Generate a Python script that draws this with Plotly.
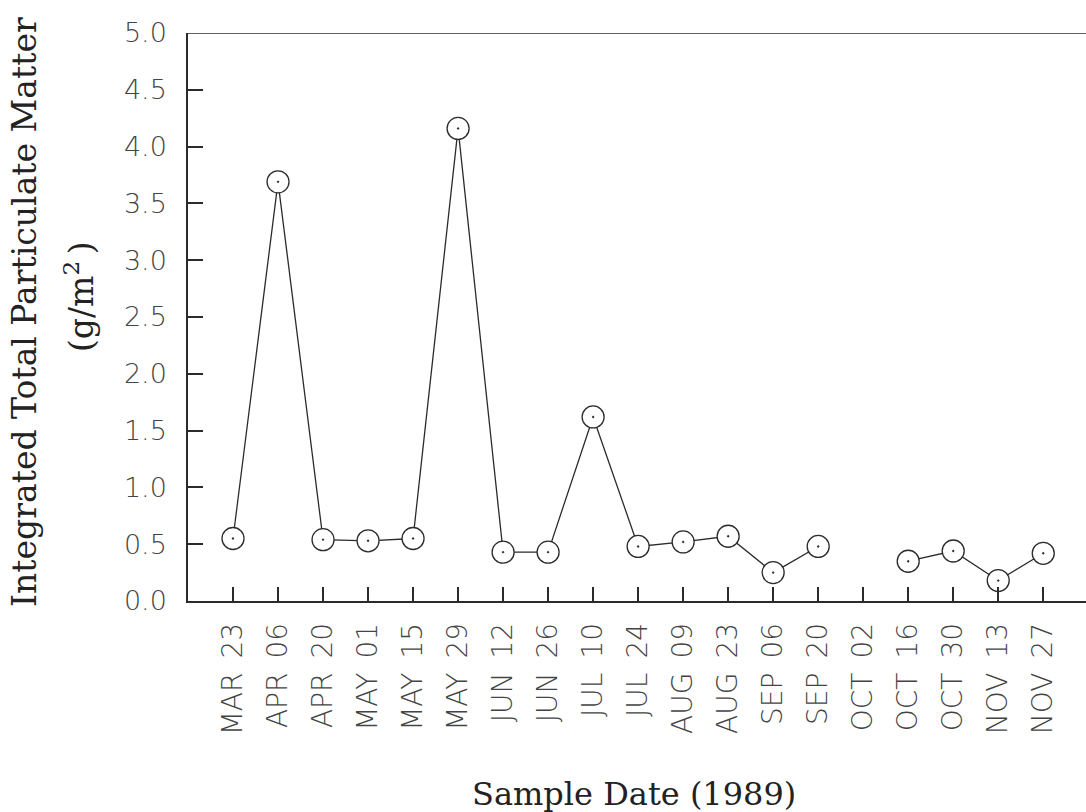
import plotly.graph_objects as go

# Sampling dates (1989) and integrated total particulate matter (g/m^2)
dates = ["MAR 23", "APR 06", "APR 20", "MAY 01", "MAY 15", "MAY 29", "JUN 12",
         "JUN 26", "JUL 10", "JUL 24", "AUG 09", "AUG 23", "SEP 06", "SEP 20",
         "OCT 02", "OCT 16", "OCT 30", "NOV 13", "NOV 27"]
tpm = [0.55, 3.69, 0.54, 0.53, 0.55, 4.16, 0.43, 0.43, 1.62, 0.48, 0.52,
       0.57, 0.25, 0.48, None, 0.35, 0.44, 0.18, 0.42]

y_ticks = [0.0, 0.5, 1.0, 1.5, 2.0, 2.5, 3.0, 3.5, 4.0, 4.5, 5.0]

INK = "#2b2b2b"
SANS = "DejaVu Sans"
SERIF = "DejaVu Serif"

W, H = 1086, 812
L, R, T, B = 188, 0, 33, 211

fig = go.Figure()
fig.add_trace(go.Scatter(
    x=dates, y=tpm, mode="lines+markers",
    line=dict(color=INK, width=1.3),
    marker=dict(symbol="circle-dot", size=22, color="white",
                line=dict(color=INK, width=1.3)),
    connectgaps=False, showlegend=False,
))

# top border of the plotting frame (no right border)
fig.add_shape(type="line", xref="paper", yref="y", x0=0, x1=1, y0=5, y1=5,
              line=dict(color=INK, width=1.5))

pw = W - L - R
ph = H - T - B

def px_x(p):
    return (p - L) / pw

def px_y(p):
    return (H - B - p) / ph

ytitle_font = dict(family=SERIF, size=33, color="#222")
xtitle_font = dict(family=SERIF, size=32, color="#222")
fig.add_annotation(text="Integrated Total Particulate Matter",
                   xref="paper", yref="paper", x=px_x(24), y=px_y(312),
                   xanchor="center", yanchor="middle", textangle=-90,
                   showarrow=False, font=ytitle_font)
fig.add_annotation(text="(g/m<sup>2</sup>\u2009)",
                   xref="paper", yref="paper", x=px_x(79), y=px_y(297),
                   xanchor="center", yanchor="middle", textangle=-90,
                   showarrow=False, font=ytitle_font)
fig.add_annotation(text="Sample Date (1989)",
                   xref="paper", yref="paper", x=px_x(634), y=px_y(794),
                   xanchor="center", yanchor="middle",
                   showarrow=False, font=xtitle_font)

# wider gap between month and day in the rotated tick labels
tick_text = [d.replace(" ", "\u2002") for d in dates]

fig.update_xaxes(
    type="category", range=[-1, 18.95],
    tickvals=dates, ticktext=tick_text,
    showline=True, linecolor=INK, linewidth=1.5,
    ticks="inside", ticklen=14, tickwidth=1.5, tickcolor=INK,
    tickangle=-90, ticklabelstandoff=9,
    tickfont=dict(family=SANS, size=28, color="#444", weight=200),
    showgrid=False, zeroline=False,
)
fig.update_yaxes(
    range=[0, 5], tickvals=y_ticks, tickformat=".1f",
    showline=True, linecolor=INK, linewidth=1.5,
    ticks="inside", ticklen=15, tickwidth=1.5, tickcolor=INK,
    ticklabelstandoff=14,
    tickfont=dict(family=SANS, size=27, color="#444", weight=200),
    showgrid=False, zeroline=False,
)

fig.update_layout(
    width=W, height=H,
    margin=dict(l=L, r=R, t=T, b=B, pad=0),
    paper_bgcolor="white", plot_bgcolor="white",
)

fig.write_html("out.html")
